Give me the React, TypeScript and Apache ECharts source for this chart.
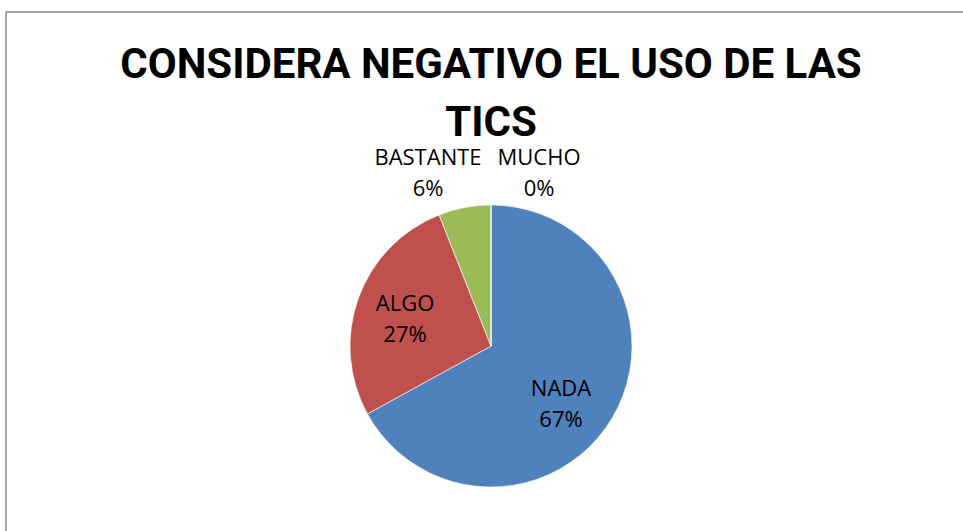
import React, { useEffect, useRef } from "react";
import * as echarts from "echarts";

const TITLE_LINES = ["CONSIDERA NEGATIVO EL USO DE LAS", "TICS"];
const CATEGORIES = ["NADA", "ALGO", "BASTANTE", "MUCHO"];
const VALUES = [67, 27, 6, 0];
const COLORS = ["#4F81BD", "#C0504D", "#9BBB59", "#8064A2"];
// label block centres (pixels)
const LABEL_POS: [number, number][] = [
  [561, 402],
  [405, 317],
  [428, 171],
  [539, 171],
];

export default function App() {
  const ref = useRef<HTMLDivElement>(null);
  useEffect(() => {
    document.body.style.margin = "0";
    if (!ref.current) return;
    const chart = echarts.init(ref.current, null, { renderer: "svg" });
    const total = VALUES.reduce((a, b) => a + b, 0);
    chart.setOption({
      animation: false,
      backgroundColor: "#ffffff",
      title: {
        text: TITLE_LINES.join("\n"),
        left: 486,
        textAlign: "center",
        top: 29,
        textStyle: {
          fontFamily: "Roboto, sans-serif",
          fontWeight: "bold",
          fontSize: 42,
          lineHeight: 58,
          color: "#000000",
        },
      },
      graphic: [
        {
          type: "rect",
          shape: { x: 6, y: 12, width: 2000, height: 2000 },
          style: { fill: "none", stroke: "#878787", lineWidth: 1.5 },
          silent: true,
          z: 100,
        },
      ],
      series: [
        {
          type: "pie",
          center: [491, 346],
          radius: 141,
          startAngle: 90,
          clockwise: true,
          minAngle: 0,
          avoidLabelOverlap: false,
          itemStyle: { borderColor: "#ffffff", borderWidth: 0.6 },
          label: {
            show: true,
            position: "inside",
            formatter: (p: any) =>
              `${p.name}\n${Math.round((p.value / total) * 100)}%`,
            fontFamily: "'Open Sans', sans-serif",
            fontSize: 22,
            lineHeight: 31,
            color: "#000000",
            align: "center",
          },
          labelLine: { show: false },
          labelLayout: (params: any) => {
            const pos = LABEL_POS[params.dataIndex];
            return {
              x: pos[0],
              y: pos[1],
              align: "center",
              verticalAlign: "middle",
            };
          },
          emphasis: { disabled: true },
          data: CATEGORIES.map((name, i) => ({
            name,
            value: VALUES[i],
            itemStyle: { color: COLORS[i] },
          })),
        },
      ],
    });
    return () => chart.dispose();
  }, []);
  return (
    <div
      ref={ref}
      style={{ position: "absolute", left: 0, top: 0, width: 963, height: 531 }}
    />
  );
}
